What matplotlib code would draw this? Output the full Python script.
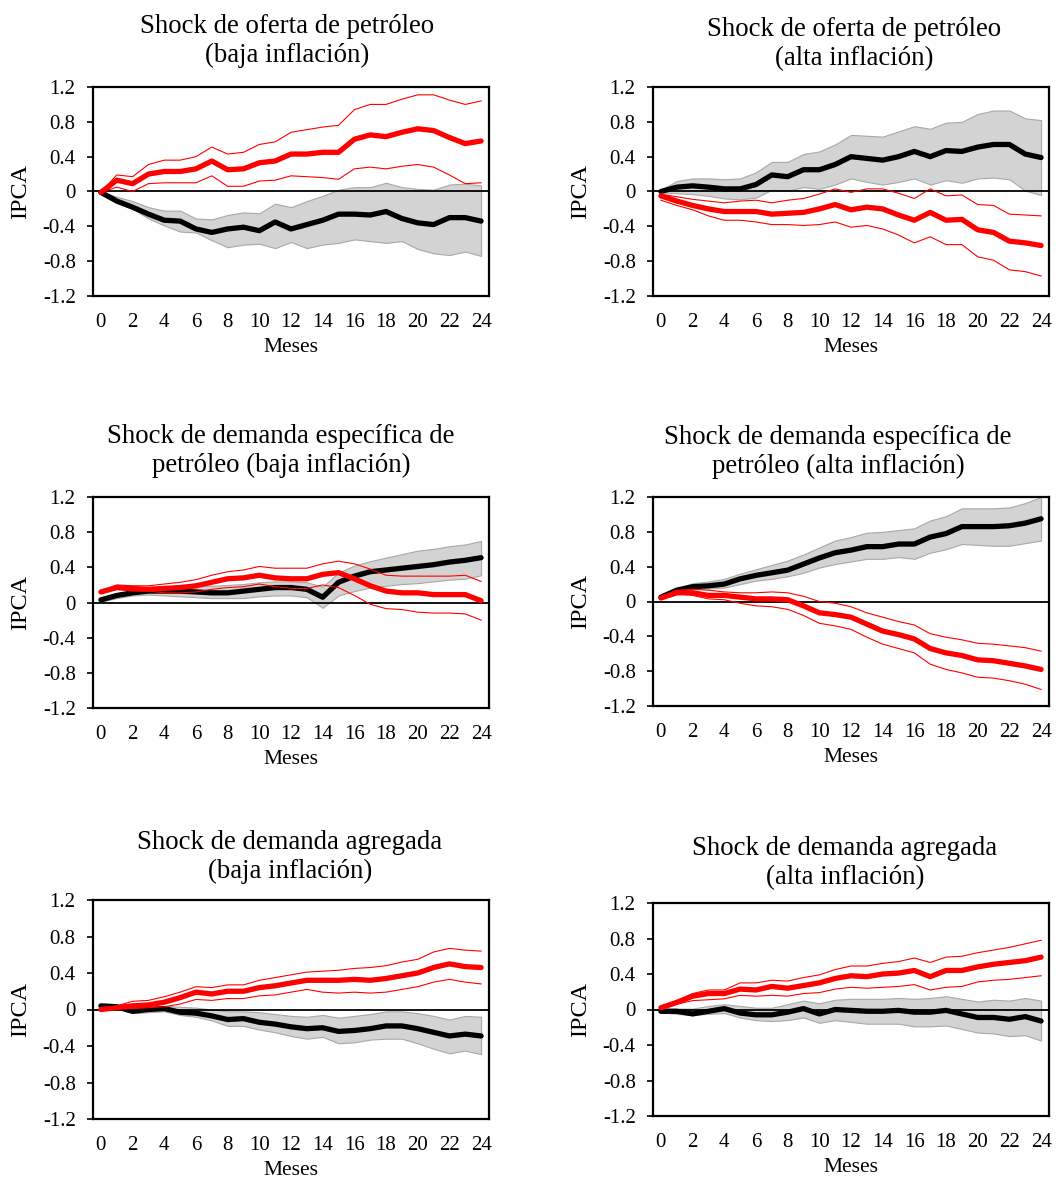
import matplotlib
matplotlib.use("Agg")
import matplotlib.pyplot as plt
import numpy as np

plt.rcParams['font.family'] = ['Liberation Serif', 'DejaVu Serif']

months = list(range(25))
xtick_labels = [str(m) for m in range(0, 25, 2)]
ytick_values = [1.2, 0.8, 0.4, 0, -0.4, -0.8, -1.2]
ytick_labels = ["1.2", "0.8", "0.4", "0", "-0.4", "-0.8", "-1.2"]

titles = [
    "Shock de oferta de petróleo\n(baja inflación)",
    "Shock de oferta de petróleo\n(alta inflación)",
    "Shock de demanda específica de\npetróleo (baja inflación)",
    "Shock de demanda específica de\npetróleo (alta inflación)",
    "Shock de demanda agregada\n(baja inflación)",
    "Shock de demanda agregada\n(alta inflación)",
]
ylabel_text = "IPCA"
xlabel_text = "Meses"

# Panel 1: oferta, baja inflación
of_baja_black = [-0.01, -0.11, -0.18, -0.26, -0.33, -0.34, -0.43, -0.47, -0.43, -0.41, -0.45, -0.35, -0.43,
                 -0.38, -0.33, -0.26, -0.26, -0.27, -0.23, -0.31, -0.36, -0.38, -0.30, -0.30, -0.34]
of_baja_black_hi = [0.0, -0.06, -0.11, -0.18, -0.22, -0.22, -0.31, -0.32, -0.27, -0.24, -0.25, -0.14, -0.18,
                    -0.11, -0.05, 0.02, 0.05, 0.05, 0.10, 0.05, 0.03, 0.02, 0.08, 0.09, 0.07]
of_baja_black_lo = [-0.01, -0.13, -0.20, -0.31, -0.39, -0.46, -0.47, -0.56, -0.64, -0.61, -0.60, -0.65, -0.58,
                    -0.65, -0.61, -0.59, -0.55, -0.57, -0.59, -0.57, -0.66, -0.71, -0.73, -0.69, -0.74]
of_baja_red = [-0.01, 0.13, 0.09, 0.20, 0.23, 0.23, 0.26, 0.35, 0.25, 0.26, 0.33, 0.35, 0.43,
               0.43, 0.45, 0.45, 0.60, 0.65, 0.63, 0.68, 0.72, 0.70, 0.62, 0.55, 0.58]
of_baja_red_hi = [-0.01, 0.19, 0.17, 0.31, 0.36, 0.36, 0.40, 0.51, 0.43, 0.45, 0.54, 0.57, 0.68,
                  0.71, 0.74, 0.76, 0.94, 1.00, 1.00, 1.06, 1.11, 1.11, 1.05, 1.00, 1.04]
of_baja_red_lo = [-0.01, 0.05, 0.0, 0.09, 0.10, 0.10, 0.10, 0.18, 0.06, 0.06, 0.12, 0.13, 0.18,
                  0.17, 0.16, 0.14, 0.26, 0.28, 0.26, 0.29, 0.31, 0.28, 0.19, 0.09, 0.10]

# Panel 2: oferta, alta inflación
of_alta_black = [0.0, 0.05, 0.065, 0.05, 0.03, 0.03, 0.08, 0.19, 0.17, 0.25, 0.25, 0.31, 0.40,
                 0.38, 0.36, 0.40, 0.46, 0.40, 0.47, 0.46, 0.51, 0.54, 0.54, 0.43, 0.39]
of_alta_black_hi = [0.02, 0.12, 0.15, 0.15, 0.14, 0.15, 0.22, 0.34, 0.34, 0.43, 0.46, 0.54, 0.65,
                    0.64, 0.63, 0.69, 0.75, 0.72, 0.79, 0.80, 0.89, 0.93, 0.93, 0.84, 0.82]
of_alta_black_lo = [-0.01, -0.02, -0.03, -0.05, -0.08, -0.09, -0.07, 0.02, 0.01, 0.05, 0.03, 0.08, 0.15,
                    0.11, 0.08, 0.11, 0.15, 0.08, 0.13, 0.10, 0.15, 0.16, 0.14, 0.01, -0.04]
of_alta_red = [-0.05, -0.11, -0.16, -0.20, -0.23, -0.23, -0.23, -0.26, -0.25, -0.24, -0.20, -0.15, -0.21,
               -0.18, -0.20, -0.27, -0.33, -0.24, -0.33, -0.32, -0.44, -0.47, -0.57, -0.59, -0.62]
of_alta_red_hi = [-0.03, -0.06, -0.09, -0.11, -0.13, -0.11, -0.10, -0.13, -0.10, -0.08, -0.03, 0.03, -0.01,
                  0.03, 0.03, -0.02, -0.08, 0.03, -0.05, -0.04, -0.15, -0.16, -0.26, -0.27, -0.28]
of_alta_red_lo = [-0.10, -0.16, -0.21, -0.28, -0.33, -0.33, -0.35, -0.38, -0.38, -0.39, -0.38, -0.35, -0.41,
                  -0.39, -0.43, -0.50, -0.59, -0.52, -0.61, -0.61, -0.75, -0.79, -0.90, -0.92, -0.97]

# Panel 3: demanda específica, baja inflación
de_baja_black = [0.03, 0.08, 0.11, 0.13, 0.13, 0.13, 0.12, 0.11, 0.11, 0.13, 0.15, 0.17, 0.17,
                 0.15, 0.06, 0.23, 0.30, 0.35, 0.37, 0.39, 0.41, 0.43, 0.46, 0.48, 0.51]
de_baja_black_hi = [0.04, 0.10, 0.14, 0.17, 0.18, 0.18, 0.19, 0.19, 0.20, 0.21, 0.23, 0.24, 0.24,
                    0.23, 0.18, 0.34, 0.42, 0.47, 0.51, 0.55, 0.59, 0.61, 0.64, 0.66, 0.70]
de_baja_black_lo = [0.01, 0.05, 0.08, 0.09, 0.08, 0.07, 0.06, 0.05, 0.05, 0.05, 0.07, 0.08, 0.08,
                    0.06, -0.06, 0.08, 0.13, 0.17, 0.19, 0.21, 0.22, 0.24, 0.26, 0.27, 0.31]
de_baja_red = [0.12, 0.17, 0.16, 0.15, 0.16, 0.17, 0.19, 0.23, 0.27, 0.28, 0.31, 0.28, 0.27,
               0.27, 0.32, 0.34, 0.27, 0.19, 0.13, 0.11, 0.11, 0.09, 0.09, 0.09, 0.02]
de_baja_red_hi = [0.13, 0.20, 0.19, 0.19, 0.21, 0.23, 0.26, 0.31, 0.35, 0.37, 0.41, 0.39, 0.39,
                  0.39, 0.44, 0.47, 0.44, 0.38, 0.31, 0.30, 0.30, 0.30, 0.30, 0.31, 0.24]
de_baja_red_lo = [0.11, 0.15, 0.13, 0.13, 0.11, 0.11, 0.12, 0.15, 0.17, 0.18, 0.21, 0.18, 0.16,
                  0.16, 0.20, 0.17, 0.08, -0.02, -0.07, -0.08, -0.11, -0.12, -0.12, -0.13, -0.20]

# Panel 4: demanda específica, alta inflación
de_alta_black = [0.05, 0.13, 0.17, 0.18, 0.20, 0.26, 0.30, 0.33, 0.36, 0.43, 0.50, 0.56, 0.59,
                 0.63, 0.63, 0.66, 0.66, 0.74, 0.78, 0.86, 0.86, 0.86, 0.87, 0.90, 0.95]
de_alta_black_hi = [0.05, 0.15, 0.21, 0.23, 0.26, 0.32, 0.37, 0.42, 0.47, 0.54, 0.62, 0.70, 0.74,
                    0.79, 0.80, 0.82, 0.84, 0.93, 0.98, 1.07, 1.07, 1.07, 1.08, 1.13, 1.20]
de_alta_black_lo = [0.03, 0.11, 0.14, 0.15, 0.16, 0.20, 0.24, 0.26, 0.29, 0.33, 0.39, 0.43, 0.46,
                    0.49, 0.49, 0.51, 0.49, 0.56, 0.60, 0.66, 0.65, 0.64, 0.64, 0.67, 0.70]
de_alta_red = [0.04, 0.10, 0.10, 0.07, 0.07, 0.05, 0.03, 0.03, 0.02, -0.05, -0.13, -0.15, -0.18,
               -0.26, -0.34, -0.38, -0.43, -0.54, -0.59, -0.62, -0.67, -0.68, -0.71, -0.74, -0.78]
de_alta_red_hi = [0.05, 0.13, 0.14, 0.13, 0.11, 0.10, 0.10, 0.11, 0.10, 0.06, 0.0, -0.02, -0.06,
                  -0.13, -0.18, -0.23, -0.27, -0.37, -0.41, -0.44, -0.48, -0.49, -0.51, -0.53, -0.57]
de_alta_red_lo = [0.03, 0.09, 0.07, 0.03, 0.02, -0.02, -0.05, -0.06, -0.09, -0.16, -0.25, -0.28, -0.32,
                  -0.41, -0.49, -0.54, -0.59, -0.72, -0.78, -0.82, -0.87, -0.88, -0.91, -0.95, -1.01]

# Panel 5: demanda agregada, baja inflación
da_baja_black = [0.04, 0.03, -0.02, 0.0, 0.01, -0.03, -0.04, -0.07, -0.11, -0.10, -0.14, -0.16, -0.19,
                 -0.21, -0.20, -0.24, -0.23, -0.21, -0.18, -0.18, -0.21, -0.25, -0.29, -0.27, -0.29]
da_baja_black_hi = [0.05, 0.04, 0.02, 0.03, 0.04, 0.03, 0.02, 0.0, -0.02, -0.02, -0.03, -0.05, -0.07,
                    -0.08, -0.06, -0.09, -0.07, -0.05, -0.02, -0.02, -0.04, -0.07, -0.11, -0.07, -0.08]
da_baja_black_lo = [0.03, 0.01, -0.04, -0.03, -0.02, -0.06, -0.08, -0.12, -0.18, -0.18, -0.22, -0.25, -0.29,
                    -0.32, -0.30, -0.37, -0.36, -0.33, -0.32, -0.32, -0.37, -0.43, -0.48, -0.45, -0.49]
da_baja_red = [0.0, 0.02, 0.04, 0.05, 0.08, 0.13, 0.19, 0.17, 0.20, 0.20, 0.24, 0.26, 0.29,
               0.32, 0.32, 0.32, 0.33, 0.32, 0.34, 0.37, 0.40, 0.46, 0.50, 0.47, 0.46]
da_baja_red_hi = [0.0, 0.04, 0.09, 0.10, 0.14, 0.19, 0.25, 0.24, 0.27, 0.27, 0.32, 0.35, 0.38,
                  0.41, 0.42, 0.43, 0.45, 0.46, 0.48, 0.52, 0.55, 0.63, 0.67, 0.65, 0.64]
da_baja_red_lo = [-0.01, 0.01, 0.01, 0.02, 0.03, 0.06, 0.11, 0.10, 0.12, 0.12, 0.15, 0.16, 0.19,
                  0.22, 0.19, 0.18, 0.19, 0.18, 0.19, 0.22, 0.25, 0.30, 0.33, 0.30, 0.28]

# Panel 6: demanda agregada, alta inflación
da_alta_black = [-0.02, -0.02, -0.05, -0.02, 0.01, -0.04, -0.06, -0.06, -0.03, 0.01, -0.05, 0.0, -0.01,
                 -0.02, -0.02, -0.01, -0.03, -0.03, -0.01, -0.05, -0.09, -0.09, -0.11, -0.08, -0.13]
da_alta_black_hi = [0.01, 0.01, 0.01, 0.04, 0.06, 0.04, 0.02, 0.02, 0.06, 0.10, 0.07, 0.11, 0.12,
                    0.12, 0.12, 0.13, 0.12, 0.13, 0.15, 0.12, 0.09, 0.11, 0.10, 0.13, 0.10]
da_alta_black_lo = [-0.03, -0.05, -0.06, -0.05, -0.04, -0.09, -0.12, -0.13, -0.12, -0.09, -0.15, -0.12, -0.14,
                    -0.16, -0.16, -0.16, -0.19, -0.19, -0.18, -0.22, -0.26, -0.27, -0.30, -0.29, -0.35]
da_alta_red = [0.02, 0.08, 0.15, 0.18, 0.18, 0.23, 0.22, 0.26, 0.24, 0.27, 0.30, 0.35, 0.38,
               0.37, 0.40, 0.41, 0.44, 0.37, 0.44, 0.44, 0.48, 0.51, 0.53, 0.55, 0.59]
da_alta_red_hi = [0.03, 0.10, 0.18, 0.22, 0.22, 0.30, 0.30, 0.33, 0.32, 0.36, 0.39, 0.45, 0.49,
                  0.49, 0.52, 0.54, 0.58, 0.53, 0.59, 0.60, 0.64, 0.67, 0.70, 0.74, 0.78]
da_alta_red_lo = [0.01, 0.06, 0.10, 0.11, 0.12, 0.16, 0.15, 0.16, 0.15, 0.18, 0.19, 0.23, 0.25,
                  0.24, 0.25, 0.26, 0.28, 0.22, 0.25, 0.26, 0.31, 0.33, 0.34, 0.36, 0.38]

panels = [
    (of_baja_black, of_baja_black_lo, of_baja_black_hi, of_baja_red, of_baja_red_lo, of_baja_red_hi),
    (of_alta_black, of_alta_black_lo, of_alta_black_hi, of_alta_red, of_alta_red_lo, of_alta_red_hi),
    (de_baja_black, de_baja_black_lo, de_baja_black_hi, de_baja_red, de_baja_red_lo, de_baja_red_hi),
    (de_alta_black, de_alta_black_lo, de_alta_black_hi, de_alta_red, de_alta_red_lo, de_alta_red_hi),
    (da_baja_black, da_baja_black_lo, da_baja_black_hi, da_baja_red, da_baja_red_lo, da_baja_red_hi),
    (da_alta_black, da_alta_black_lo, da_alta_black_hi, da_alta_red, da_alta_red_lo, da_alta_red_hi),
]

W, H = 1056, 1178
fig = plt.figure(figsize=(W / 100, H / 100), dpi=100)

# axes boxes in pixels: (left, top, right, bottom)
boxes = [
    (93, 87, 489, 296),
    (653, 87, 1049, 296),
    (93, 497, 489, 708),
    (653, 497, 1049, 706),
    (93, 900, 489, 1119),
    (653, 903, 1049, 1116),
]
title_centers = [287, 854, 281, 838, 290, 845]
title_baselines = [62, 65, 472, 473, 878, 884]

for i, (box, data) in enumerate(zip(boxes, panels)):
    l, t, r, b = box
    ax = fig.add_axes([l / W, 1 - b / H, (r - l) / W, (b - t) / H])
    blk, blo, bhi, red, rlo, rhi = data
    ax.fill_between(months, blo, bhi, facecolor='#d3d3d3', edgecolor='#a8a8a8', linewidth=0.8, zorder=1)
    ax.axhline(0, color='black', linewidth=1.3, zorder=2)
    ax.plot(months, blk, color='black', linewidth=3.8, solid_capstyle='round', zorder=3)
    ax.plot(months, rhi, color='#ff0000', linewidth=0.8, zorder=4)
    ax.plot(months, rlo, color='#ff0000', linewidth=0.8, zorder=4)
    ax.plot(months, red, color='#ff0000', linewidth=3.8, solid_capstyle='round', zorder=5)

    ax.set_xlim(-0.5, 24.5)
    ax.set_ylim(-1.2, 1.2)
    ax.set_xticks(list(range(0, 25, 2)))
    ax.set_xticklabels(xtick_labels, fontsize=15)
    ax.set_yticks(ytick_values)
    ax.set_yticklabels(ytick_labels, fontsize=15)
    ax.tick_params(axis='x', length=0, pad=12.5)
    ax.tick_params(axis='y', direction='out', length=4.5, width=1.2, pad=8)
    for s in ax.spines.values():
        s.set_linewidth(1.6)
        s.set_color('black')
    ax.set_xlabel(xlabel_text, fontsize=15.5, labelpad=4)
    ax.set_ylabel(ylabel_text, fontsize=17.5, labelpad=8)

    cx = title_centers[i]
    fig.text(cx / W, 1 - title_baselines[i] / H, titles[i], ha='center', va='baseline',
             fontsize=19.3, linespacing=1.22)

fig.savefig("out.png", dpi=100, facecolor='white')
